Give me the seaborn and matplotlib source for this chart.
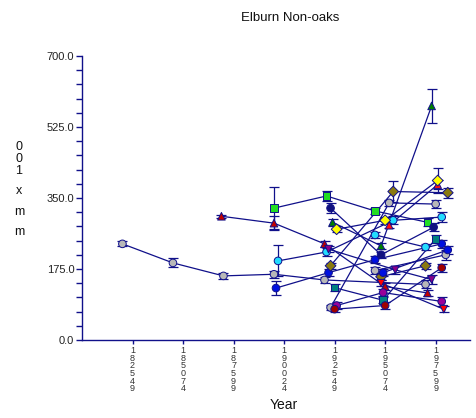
import matplotlib
matplotlib.use("Agg")
import matplotlib.pyplot as plt
import matplotlib.ticker as mticker
import matplotlib.transforms as mtransforms
import pandas as pd
import seaborn as sns

# one row per plotted point: series id, year, mean (mm x 100), error half-width
series = (
    ["s01"] * 6 + ["s02"] * 3 + ["s03"] * 2 + ["s04"] * 5 + ["s05"] * 2
    + ["s06"] * 4 + ["s07"] * 4 + ["s08"] * 4 + ["s09"] * 3 + ["s10"] * 3
    + ["s11"] * 3 + ["s12"] * 3 + ["s13"] * 2 + ["s14"] * 3 + ["s15"] * 3
    + ["s16"] * 3 + ["s17"] * 3 + ["s18"] * 2 + ["s19"] * 2 + ["s20"] * 2
)
year = [
    1832, 1857, 1882, 1907, 1932, 1982,
    1935, 1964, 1987,
    1957, 1992,
    1881, 1907, 1932, 1962, 1983,
    1964, 1988,
    1907, 1933, 1957, 1983,
    1909, 1933, 1966, 1990,
    1908, 1934, 1957, 1990,
    1935, 1960, 1986,
    1936, 1960, 1985,
    1938, 1962, 1988,
    1935, 1966, 1993,
    1960, 1982,
    1934, 1967, 1985,
    1937, 1961, 1987,
    1938, 1961, 1990,
    1937, 1962, 1990,
    1960, 1991,
    1957, 1982,
    1961, 1993,
]
value = [
    237, 190, 158, 162, 148, 137,
    80, 338, 335,
    171, 210,
    305, 288, 237, 132, 116,
    283, 383,
    325, 355, 318, 290,
    195, 217, 295, 303,
    128, 166, 198, 237,
    325, 210, 278,
    290, 232, 577,
    273, 295, 393,
    183, 366, 363,
    156, 183,
    224, 173, 149,
    129, 98, 249,
    85, 117, 95,
    76, 85, 178,
    140, 76,
    259, 229,
    166, 222,
]
err = [
    6, 11, 7, 8, 8, 10,
    6, 8, 10,
    8, 12,
    4, 18, 8, 8, 8,
    8, 12,
    52, 12, 8, 10,
    38, 10, 10, 12,
    17, 8, 8, 10,
    12, 8, 10,
    8, 8, 41,
    8, 8, 30,
    8, 25, 12,
    8, 8,
    8, 10, 10,
    8, 8, 10,
    8, 8, 10,
    6, 8, 10,
    8, 8,
    8, 8,
    8, 10,
]

period_mid = [1837, 1862, 1887, 1912, 1937, 1962, 1987]
period_labels = ["1825-49", "1850-74", "1875-99", "1900-24",
                 "1925-49", "1950-74", "1975-99"]
y_ticks = [0, 175, 350, 525, 700]

NAVY = "#10108a"
COLORS = {
    "s01": "#b8b8b8", "s02": "#b8b8b8", "s03": "#b8b8b8", "s04": "#c00000",
    "s05": "#ff1010", "s06": "#22dd22", "s07": "#22dcff", "s08": "#0010e0",
    "s09": "#101080", "s10": "#008000", "s11": "#ffff00", "s12": "#8a7a10",
    "s13": "#8a7a10", "s14": "#880088", "s15": "#008080", "s16": "#990099",
    "s17": "#a00000", "s18": "#ff0000", "s19": "#22dcff", "s20": "#0010e0",
}
MARKERS = {
    "s01": "o", "s02": "o", "s03": "o", "s04": "^", "s05": "^", "s06": "s",
    "s07": "o", "s08": "o", "s09": "o", "s10": "^", "s11": "D", "s12": "D",
    "s13": "D", "s14": "v", "s15": "s", "s16": "o", "s17": "o", "s18": "v",
    "s19": "o", "s20": "o",
}


def main() -> None:
    sns.set_theme(style="white")
    plt.rcParams["font.family"] = ["Liberation Sans", "DejaVu Sans"]

    df = pd.DataFrame({"series": series, "year": year, "value": value, "err": err})

    fig = plt.figure(figsize=(4.77, 4.18), dpi=100)
    ax = fig.add_axes([82 / 477, 1 - 340 / 418, 388 / 477, 284 / 418])

    sns.lineplot(data=df, x="year", y="value", units="series", estimator=None,
                 sort=False, color=NAVY, lw=0.9, ax=ax, legend=False)
    ax.errorbar(df["year"], df["value"], yerr=df["err"], fmt="none",
                ecolor=NAVY, elinewidth=0.9, capsize=3.5, capthick=0.9, zorder=3)
    sns.scatterplot(data=df, x="year", y="value", hue="series", style="series",
                    palette=COLORS, markers=MARKERS, s=30, edgecolor=NAVY,
                    linewidth=0.7, ax=ax, legend=False, zorder=4)

    ax.set_xlim(1812, 2004)
    ax.set_ylim(0, 700)
    ax.set_yticks(y_ticks)
    ax.yaxis.set_major_formatter(mticker.FormatStrFormatter("%.1f"))
    ax.yaxis.set_minor_locator(mticker.MultipleLocator(35))
    ax.set_xticks(period_mid)
    ax.set_xticklabels(["\n".join(lab.replace("-", "")) for lab in period_labels],
                       fontsize=6.5, linespacing=0.8, color="#333333")
    shift = mtransforms.ScaledTranslation(-3 / 100, 0, fig.dpi_scale_trans)
    for lab in ax.get_xticklabels():
        lab.set_transform(lab.get_transform() + shift)

    for side in ["top", "right"]:
        ax.spines[side].set_visible(False)
    for side in ["left", "bottom"]:
        ax.spines[side].set_color(NAVY)
        ax.spines[side].set_linewidth(1.0)

    ax.tick_params(axis="y", which="both", direction="out", length=4.5,
                   color=NAVY, width=1, left=True, labelsize=8, labelcolor="#222222", pad=1)
    ax.tick_params(axis="x", direction="out", length=3, color=NAVY, width=1,
                   bottom=True, pad=1.5)
    ax.set_xlabel("")
    ax.set_ylabel("")

    fig.text(290 / 477, 1 - 18 / 418, "Elburn Non-oaks", ha="center", va="center",
             fontsize=9.5, color="#111111")
    fig.text(284 / 477, 1 - 405 / 418, "Year", ha="center", va="center",
             fontsize=10, color="#111111")
    for ch, yy in zip("001xmm", [147, 159, 171, 191, 212, 232]):
        fig.text(19 / 477, 1 - yy / 418, ch, ha="center", va="center",
                 fontsize=9, color="#111111")

    fig.savefig("out.png", dpi=100)
    plt.close(fig)


if __name__ == "__main__":
    main()
